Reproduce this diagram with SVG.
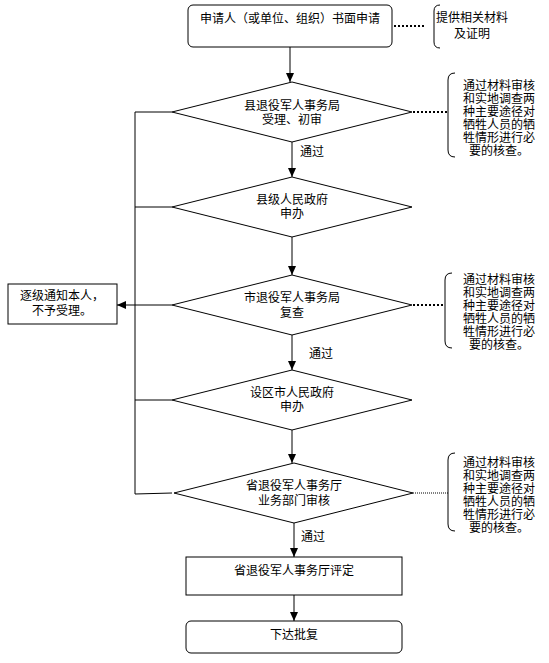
<svg xmlns="http://www.w3.org/2000/svg" width="549" height="663" viewBox="0 0 549 663">
<style>
  .shape { fill: #ffffff; stroke: #000000; stroke-width: 1; }
  .line { fill: none; stroke: #000000; stroke-width: 1; }
  .dot { fill: none; stroke: #000000; stroke-width: 2; stroke-dasharray: 2 2; }
  .dotthin { fill: none; stroke: #000000; stroke-width: 1; stroke-dasharray: 1 1; }
  .brace { fill: none; stroke: #000000; stroke-width: 1; }
  text { font-family: "Noto Sans CJK SC", "Noto Sans", sans-serif; font-size: 12px; fill: #000000; }
  .c { text-anchor: middle; }
</style>
<defs>
  <marker id="arr" viewBox="0 0 9 8" markerWidth="9" markerHeight="8" refX="9" refY="4" orient="auto" markerUnits="userSpaceOnUse">
    <path d="M0,0 L9,4 L0,8 z" fill="#000000"/>
  </marker>
</defs>
<rect width="549" height="663" fill="#ffffff"/>

<g id="connectors">
  <line class="line" x1="290" y1="47" x2="290" y2="82" marker-end="url(#arr)"/>
  <line class="line" x1="292" y1="142" x2="292" y2="177" marker-end="url(#arr)"/>
  <line class="line" x1="292" y1="237" x2="292" y2="275" marker-end="url(#arr)"/>
  <line class="line" x1="292" y1="335" x2="292" y2="370" marker-end="url(#arr)"/>
  <line class="line" x1="292" y1="430" x2="292" y2="463" marker-end="url(#arr)"/>
  <line class="line" x1="294" y1="523" x2="294" y2="557" marker-end="url(#arr)"/>
  <line class="line" x1="294" y1="595" x2="294" y2="621" marker-end="url(#arr)"/>
  <polyline class="line" points="172,112 135,112 135,494 172,493"/>
  <line class="line" x1="135" y1="207" x2="172" y2="207"/>
  <line class="line" x1="135" y1="400" x2="172" y2="400"/>
  <line class="line" x1="172" y1="305" x2="117" y2="305" marker-end="url(#arr)"/>
  <line class="dot" x1="394" y1="26" x2="426" y2="26"/>
  <line class="dot" x1="413" y1="112" x2="447" y2="112"/>
  <line class="dot" x1="413" y1="305" x2="444" y2="305"/>
  <line class="dotthin" x1="413" y1="493" x2="448" y2="493"/>
  <text x="300" y="156">通过</text>
  <text x="309" y="358">通过</text>
  <text x="301" y="541">通过</text>
</g>

<g id="apply">
  <rect class="shape" x="188" y="5" width="204" height="42" rx="5" ry="5"/>
  <text class="c" x="290" y="23">申请人（或单位、组织）书面申请</text>
</g>

<g id="note-materials">
  <path class="brace" d="M440,5 Q434,5 434,11 V42 Q434,48 440,48"/>
  <text x="436" y="22">提供相关材料</text>
  <text class="c" x="472" y="38">及证明</text>
</g>

<g id="county-bureau">
  <polygon class="shape" points="292,82 412,112 292,142 172,112"/>
  <text class="c" x="292" y="110">县退役军人事务局</text>
  <text class="c" x="292" y="124">受理、初审</text>
</g>

<g id="note1">
  <path class="brace" d="M455,73 Q448,73 448,80 V150 Q448,157 455,157"/>
  <text class="c" x="499" y="90">通过材料审核</text>
  <text class="c" x="499" y="103">和实地调查两</text>
  <text class="c" x="499" y="116">种主要途径对</text>
  <text class="c" x="499" y="129">牺牲人员的牺</text>
  <text class="c" x="499" y="142">牲情形进行必</text>
  <text class="c" x="499" y="155">要的核查。</text>
</g>

<g id="county-gov">
  <polygon class="shape" points="292,177 412,207 292,237 172,207"/>
  <text class="c" x="292" y="204">县级人民政府</text>
  <text class="c" x="292" y="218">申办</text>
</g>

<g id="reject">
  <rect class="shape" x="8" y="284" width="109" height="40"/>
  <text class="c" x="62" y="300">逐级通知本人，</text>
  <text class="c" x="62" y="315">不予受理。</text>
</g>

<g id="city-bureau">
  <polygon class="shape" points="292,275 412,305 292,335 172,305"/>
  <text class="c" x="292" y="302">市退役军人事务局</text>
  <text class="c" x="292" y="317">复查</text>
</g>

<g id="note2">
  <path class="brace" d="M452,273 Q445,273 445,280 V341 Q445,348 452,348"/>
  <text class="c" x="499" y="284">通过材料审核</text>
  <text class="c" x="499" y="297">和实地调查两</text>
  <text class="c" x="499" y="310">种主要途径对</text>
  <text class="c" x="499" y="323">牺牲人员的牺</text>
  <text class="c" x="499" y="336">牲情形进行必</text>
  <text class="c" x="499" y="349">要的核查。</text>
</g>

<g id="city-gov">
  <polygon class="shape" points="292,370 412,400 292,430 172,400"/>
  <text class="c" x="292" y="397">设区市人民政府</text>
  <text class="c" x="292" y="411">申办</text>
</g>

<g id="province-dept">
  <polygon class="shape" points="294,463 413,493 294,523 174,493"/>
  <text class="c" x="294" y="490">省退役军人事务厅</text>
  <text class="c" x="294" y="505">业务部门审核</text>
</g>

<g id="note3">
  <path class="brace" d="M455,453 Q448,453 448,460 V524 Q448,531 455,531"/>
  <text class="c" x="499" y="467">通过材料审核</text>
  <text class="c" x="499" y="480">和实地调查两</text>
  <text class="c" x="499" y="493">种主要途径对</text>
  <text class="c" x="499" y="506">牺牲人员的牺</text>
  <text class="c" x="499" y="519">牲情形进行必</text>
  <text class="c" x="499" y="532">要的核查。</text>
</g>

<g id="province-eval">
  <rect class="shape" x="186" y="557" width="216" height="38"/>
  <text class="c" x="294" y="575">省退役军人事务厅评定</text>
</g>

<g id="approval">
  <rect class="shape" x="186" y="621" width="216" height="32" rx="5" ry="5"/>
  <text class="c" x="294" y="639">下达批复</text>
</g>
</svg>
